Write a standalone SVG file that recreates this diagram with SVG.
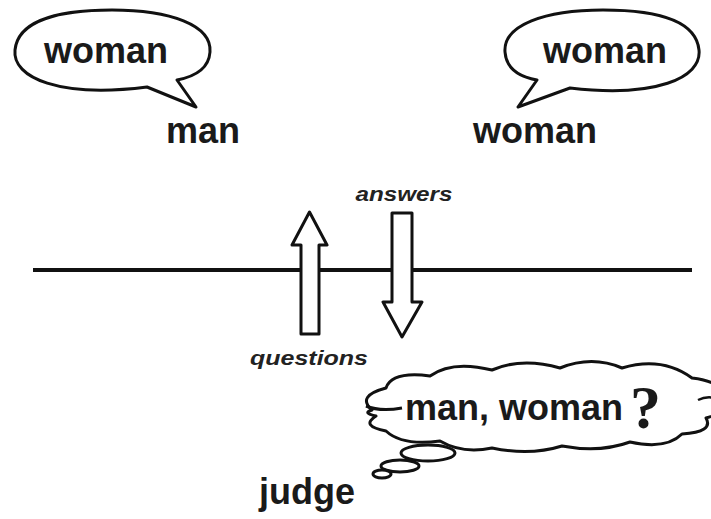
<svg xmlns="http://www.w3.org/2000/svg" width="711" height="519" viewBox="0 0 711 519">
<style>
.shape{fill:#fff;stroke:#111;stroke-width:3;stroke-linejoin:round}
.big{font-family:"Liberation Sans",Arial,sans-serif;font-weight:bold;font-size:36px;fill:#1a1a1a}
.lab{font-family:"Liberation Sans",Arial,sans-serif;font-weight:bold;font-style:italic;font-size:20px;fill:#222}
</style>
<rect width="711" height="519" fill="#fff"/>
<g id="bubble-left">
<path class="shape" d="M147 87 C 60 98 12 78 15 50 C 18 20 60 10 112 10 C 170 10 212 25 210 52 C 209 66 198 76 177 80 L 196 107 Z"/>
<text class="big" x="106" y="63" text-anchor="middle">woman</text>
</g>
<g id="man"><text class="big" x="203" y="143" text-anchor="middle">man</text></g>
<g id="bubble-right">
<path class="shape" d="M570 88 C 655 98 702 78 699 50 C 696 20 655 10 603 10 C 545 10 503 25 505 52 C 506 66 515 76 537 80 L 518 107 Z"/>
<text class="big" x="605" y="63" text-anchor="middle">woman</text>
</g>
<g id="woman"><text class="big" x="535" y="143" text-anchor="middle">woman</text></g>
<g id="connectors">
<line x1="33" y1="270" x2="692" y2="270" stroke="#111" stroke-width="4"/>
<path class="shape" d="M301 334 L301 245 L292 245 L309.5 212 L327 245 L319 245 L319 334 Z"/>
<path class="shape" d="M392 213 L412 213 L412 302 L422 302 L402 337 L383 302 L392 302 Z"/>
</g>
<g id="answers"><text class="lab" x="404" y="201" text-anchor="middle" textLength="97" lengthAdjust="spacingAndGlyphs">answers</text></g>
<g id="questions"><text class="lab" x="250" y="365" textLength="118" lengthAdjust="spacingAndGlyphs">questions</text></g>
<g id="judge-thought">
<path class="shape" d="M372 410 Q 356 396 386 388 Q 392 371 430 376 Q 452 360 492 370 Q 522 357 560 368 Q 592 355 622 368 Q 662 356 692 378 Q 726 382 718 398 Q 730 412 706 418 Q 714 432 682 434 Q 666 450 630 442 Q 600 453 562 446 Q 530 456 492 448 Q 462 454 440 441 Q 402 446 386 431 Q 360 426 376 416 Q 362 413 372 410 Z"/>
<path d="M366 406 Q 380 412 402 408" fill="none" stroke="#111" stroke-width="3"/>
<path d="M698 400 Q 706 396 715 398" fill="none" stroke="#111" stroke-width="2.5"/>
<ellipse class="shape" cx="428" cy="453" rx="27" ry="8"/>
<ellipse class="shape" cx="400" cy="466" rx="19" ry="6"/>
<ellipse class="shape" cx="382" cy="474" rx="9" ry="4"/>
<text class="big" x="405" y="420">man, woman</text>
<text x="630" y="428" font-family="'Liberation Serif','Times New Roman',serif" font-weight="bold" font-size="62" fill="#1a1a1a">?</text>
</g>
<g id="judge"><text class="big" x="307" y="504" text-anchor="middle">judge</text></g>
</svg>
